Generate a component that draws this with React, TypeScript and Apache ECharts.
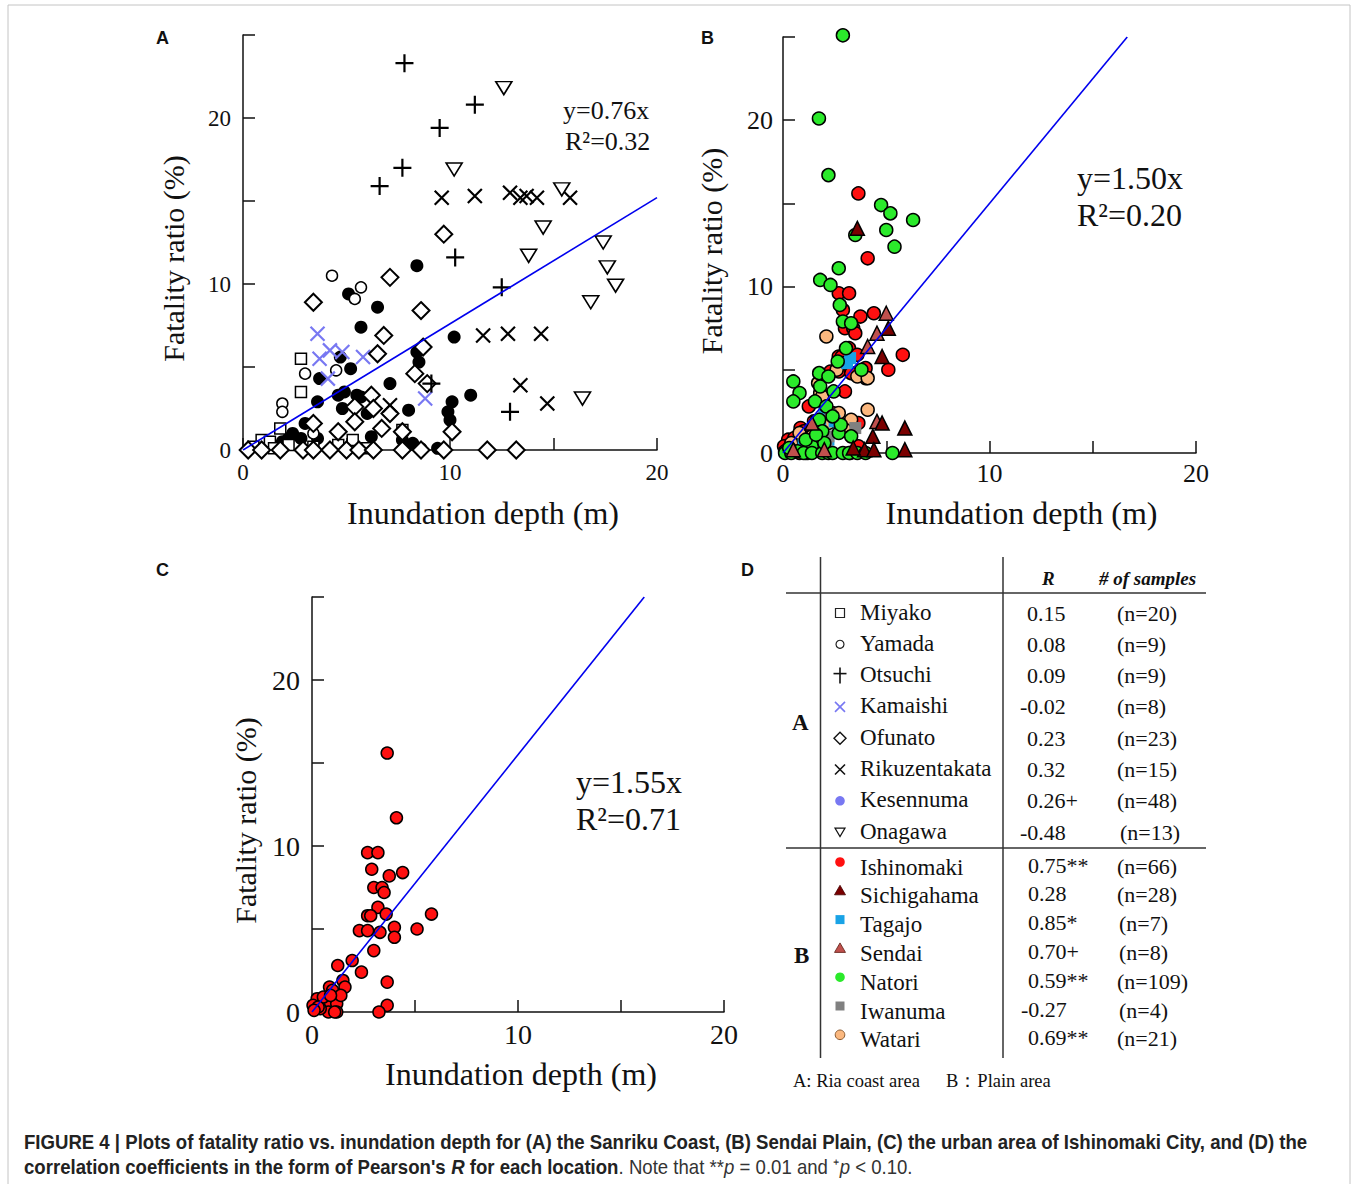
import React, { useEffect, useRef } from 'react';
import * as echarts from 'echarts';

const SERIF = '"Liberation Serif", "Times New Roman", serif';
const SANS = '"Liberation Sans", Arial, sans-serif';
const INK = '#111';

// ---------- Panel A: Sanriku Coast [depth m, fatality %] ----------
const miyako = [[2.8, 5.5], [2.8, 3.5], [1.8, 1.3], [0.9, 0.6], [1.3, 0.5], [7.7, 1.2], [5.3, 0.6], [0.5, 0.2], [2.2, 0.3], [3.4, 0.2], [4.6, 0.3], [6.0, 0.1], [1.5, 0.1]];
const yamada = [[4.3, 10.5], [5.7, 9.8], [5.4, 9.1], [3.0, 4.6], [4.5, 4.8], [1.9, 2.8], [1.9, 2.3], [3.4, 1.0], [8.6, 0.1]];
const otsuchi = [[7.8, 23.3], [9.5, 19.4], [11.2, 20.8], [6.6, 15.9], [7.7, 17.0], [10.25, 11.6], [12.5, 9.8], [12.9, 2.3], [9.1, 4.0]];
const kamaishi = [[3.6, 7.0], [3.7, 5.5], [4.2, 6.0], [4.8, 5.9], [5.8, 5.6], [4.1, 4.3], [8.8, 3.1]];
const ofunato = [[9.7, 13.0], [7.1, 10.4], [3.4, 8.9], [8.6, 8.4], [6.8, 6.9], [6.5, 5.8], [8.7, 6.2], [8.3, 4.6], [8.9, 4.0], [6.2, 3.3], [5.4, 2.6], [6.3, 2.5], [7.1, 2.2], [5.4, 1.7], [6.7, 1.3], [4.6, 1.1], [3.4, 1.6], [7.7, 1.1], [10.1, 1.1], [0.25, 0], [0.9, 0], [1.8, 0], [2.9, 0], [3.4, 0], [4.2, 0], [5.0, 0], [5.6, 0], [6.3, 0], [7.7, 0], [8.6, 0], [9.7, 0], [11.8, 0], [13.2, 0]];
const rikuzentakata = [[9.6, 15.2], [11.2, 15.3], [12.9, 15.5], [13.4, 15.2], [13.7, 15.3], [14.2, 15.2], [15.8, 15.2], [11.6, 6.9], [12.8, 7.0], [14.4, 7.0], [13.4, 3.9], [14.7, 2.8], [7.1, 2.7]];
const kesennuma = [[8.4, 11.1], [5.1, 9.4], [6.5, 8.6], [5.7, 7.4], [10.2, 6.8], [4.7, 5.6], [5.2, 4.9], [3.7, 4.3], [8.4, 5.9], [8.5, 5.3], [7.1, 4.0], [11.0, 3.3], [10.1, 2.9], [4.9, 3.5], [4.6, 3.3], [3.6, 2.9], [5.5, 3.3], [5.7, 3.2], [4.8, 2.5], [6.0, 2.2], [8.0, 2.4], [9.9, 2.3], [10.0, 1.8], [3.0, 1.6], [2.4, 1.0], [2.2, 0.7], [2.8, 0.7], [3.6, 0.7], [6.2, 0.8], [7.7, 0.6], [1.9, 0.5], [9.4, 0.1], [8.2, 0.4]];
const onagawa = [[12.6, 21.8], [10.2, 16.9], [15.4, 15.7], [14.5, 13.4], [17.4, 12.5], [13.8, 11.7], [17.6, 11.0], [18.0, 9.9], [16.8, 8.9], [16.4, 3.1]];

// ---------- Panel B: Sendai Plain ----------
const ishinomaki = [[3.65, 15.6], [4.1, 11.7], [2.7, 9.6], [3.2, 9.6], [2.9, 8.6], [3.75, 8.2], [4.4, 8.4], [3.0, 7.5], [3.4, 7.5], [3.5, 7.2], [3.2, 6.3], [2.7, 5.8], [2.85, 5.8], [3.6, 5.9], [5.8, 5.9], [2.3, 4.9], [2.7, 4.9], [3.3, 4.8], [4.0, 5.1], [5.1, 5.0], [4.0, 4.5], [3.0, 3.7], [1.95, 3.1], [2.4, 2.4], [1.25, 2.8], [3.65, 1.8], [1.5, 1.9], [1.6, 1.5], [0.85, 1.5], [3.65, 0.4], [3.25, 0], [0.25, 0.8], [0.05, 0.4], [0.8, 0.55], [1.1, 0.9], [1.2, 0.5], [0.8, 0], [1.2, 0], [0.4, 0.2], [0.55, 0.9], [1.0, 1.3], [0.3, 0.3], [0.1, 0.1], [1.4, 1.0], [0.9, 1.0], [1.1, 0.0]];
const sichigahama = [[3.6, 13.5], [5.1, 7.5], [4.8, 5.8], [4.8, 1.8], [5.9, 1.5], [4.35, 1.0], [3.95, 0.2], [4.4, 0.2], [5.9, 0.2], [3.4, 0.3]];
const tagajo = [[3.25, 5.7], [3.1, 5.4], [2.5, 1.9], [2.2, 0.8], [1.8, 1.5], [2.0, 2.6], [1.0, 0.5]];
const sendai = [[5.0, 8.4], [4.55, 7.2], [4.1, 6.4], [4.55, 1.9], [1.4, 1.8], [0.5, 0.2], [2.0, 0.2]];
const natori = [[2.9, 25.1], [1.74, 20.1], [2.2, 16.7], [4.75, 14.9], [5.2, 14.4], [6.3, 14.0], [5.0, 13.4], [3.5, 13.1], [5.4, 12.4], [2.7, 11.1], [1.8, 10.4], [2.3, 10.1], [2.75, 8.9], [2.9, 7.9], [3.3, 7.8], [3.05, 6.3], [2.65, 5.5], [3.8, 5.0], [1.75, 4.8], [2.2, 4.6], [0.5, 4.3], [0.8, 3.6], [0.5, 3.1], [1.8, 4.0], [1.55, 3.1], [2.45, 3.7], [2.1, 2.8], [1.75, 2.0], [1.9, 1.3], [2.7, 1.2], [3.3, 1.0], [2.8, 1.7], [1.4, 0.4], [2.4, 2.2], [0.1, 0], [0.4, 0], [0.7, 0.1], [1.0, 0], [1.4, 0], [1.9, 0], [2.2, 0], [2.4, 0], [2.9, 0], [3.2, 0], [3.6, 0], [4.0, 0], [5.3, 0], [0.3, 0.3], [1.1, 0.8], [2.0, 0.6], [1.6, 1.1]];
const iwanuma = [[3.5, 1.5], [2.2, 1.0], [2.3, 2.3], [2.1, 0.5]];
const watari = [[2.1, 7.0], [3.6, 4.6], [4.1, 4.5], [1.7, 4.2], [1.8, 3.6], [4.1, 2.6], [2.7, 2.4], [3.3, 2.0], [2.2, 1.8], [0.8, 1.2], [1.4, 1.0], [1.6, 0.4], [2.9, 5.4], [0.4, 0.6], [2.6, 5.0], [1.9, 3.4], [3.0, 1.4], [1.2, 0.2]];

// ---------- regression lines ----------
const fitA = [[0, 0], [20, 15.2]];
const fitB = [[0, 0], [16.67, 25]];
const fitC = [[0, 0], [16.13, 25]];

// ---------- Panel D table ----------
const namesA = ['Miyako', 'Yamada', 'Otsuchi', 'Kamaishi', 'Ofunato', 'Rikuzentakata', 'Kesennuma', 'Onagawa'];
const rA = ['0.15', '0.08', '0.09', '-0.02', '0.23', '0.32', '0.26+', '-0.48'];
const nA = ['(n=20)', '(n=9)', '(n=9)', '(n=8)', '(n=23)', '(n=15)', '(n=48)', '(n=13)'];
const namesB = ['Ishinomaki', 'Sichigahama', 'Tagajo', 'Sendai', 'Natori', 'Iwanuma', 'Watari'];
const rB = ['0.75**', '0.28', '0.85*', '0.70+', '0.59**', '-0.27', '0.69**'];
const nB = ['(n=66)', '(n=28)', '(n=7)', '(n=8)', '(n=109)', '(n=4)', '(n=21)'];

const C_RED = '#ff1010';
const C_DARKRED = '#7a0000';
const C_BROWN = '#c0504d';
const C_SKY = '#19a3e6';
const C_GREEN = '#2bea2b';
const C_GRAY = '#808080';
const C_ORANGE = '#fbb87f';
const C_LAV = '#7878f2';
const C_FIT = '#0000ee';

const PLUS = 'path://M5,0L5,10M0,5L10,5';
const CROSS = 'path://M0,0L10,10M10,0L0,10';
const TRI_DOWN = 'path://M0,0L10,0L5,8.66Z';

function axes(grid: number, labelSize: number, xMargin: number, yMargin: number, xGap: number, yGap: number, xShift: number, yShift: number) {
  const base: any = {
    gridIndex: grid,
    type: 'value',
    min: 0,
    interval: 5,
    axisLine: { show: true, onZero: false, lineStyle: { color: INK, width: 1.5 } },
    axisTick: { show: true, inside: true, length: 12, lineStyle: { color: INK, width: 1.5 } },
    splitLine: { show: false },
    nameLocation: 'middle',
  };
  const label = (m: number) => ({
    margin: m,
    fontFamily: SERIF,
    fontSize: labelSize,
    color: INK,
    formatter: (v: number) => (v % 10 === 0 ? String(v) : ''),
  });
  return {
    x: {
      ...base, max: 20, name: 'Inundation depth (m)', nameGap: xGap, axisLabel: label(xMargin),
      nameTextStyle: { fontFamily: SERIF, fontSize: 32, color: INK, padding: [0, 0, 0, xShift * 2] },
    },
    y: {
      ...base, max: 25, name: 'Fatality ratio (%)', nameGap: yGap, axisLabel: label(yMargin),
      nameTextStyle: { fontFamily: SERIF, fontSize: 30, color: INK, padding: [0, yShift * 2, 0, 0] },
    },
  };
}

function sc(data: number[][], idx: number, symbol: string, size: any, fill: string, stroke: string, bw: number) {
  return {
    type: 'scatter',
    xAxisIndex: idx,
    yAxisIndex: idx,
    data,
    symbol,
    symbolSize: size,
    clip: false,
    itemStyle: { color: fill, borderColor: stroke, borderWidth: bw, opacity: 1 },
    emphasis: { disabled: true },
    z: 2,
  };
}

function fit(data: number[][], idx: number) {
  return {
    type: 'line',
    xAxisIndex: idx,
    yAxisIndex: idx,
    data,
    showSymbol: false,
    symbol: 'none',
    lineStyle: { color: C_FIT, width: 1.6 },
    z: 5,
  };
}

function legendSymbol(kind: string, cx: number, cy: number): any {
  switch (kind) {
    case 'sq-open':
      return { type: 'rect', shape: { x: cx - 4.5, y: cy - 4.5, width: 9, height: 9 }, style: { fill: '#fff', stroke: '#222', lineWidth: 1.2 } };
    case 'ci-open':
      return { type: 'circle', shape: { cx, cy, r: 4 }, style: { fill: '#fff', stroke: '#222', lineWidth: 1.2 } };
    case 'plus':
      return {
        type: 'group',
        children: [
          { type: 'line', shape: { x1: cx, y1: cy - 8, x2: cx, y2: cy + 8 }, style: { stroke: '#111', lineWidth: 1.6 } },
          { type: 'line', shape: { x1: cx - 6.5, y1: cy - 2, x2: cx + 6.5, y2: cy - 2 }, style: { stroke: '#111', lineWidth: 1.6 } },
        ],
      };
    case 'cross-lav':
    case 'cross':
      return {
        type: 'group',
        children: [
          { type: 'line', shape: { x1: cx - 5, y1: cy - 5, x2: cx + 5, y2: cy + 5 }, style: { stroke: kind === 'cross' ? '#111' : C_LAV, lineWidth: 1.6 } },
          { type: 'line', shape: { x1: cx + 5, y1: cy - 5, x2: cx - 5, y2: cy + 5 }, style: { stroke: kind === 'cross' ? '#111' : C_LAV, lineWidth: 1.6 } },
        ],
      };
    case 'dia-open':
      return { type: 'polygon', shape: { points: [[cx, cy - 6], [cx + 6, cy], [cx, cy + 6], [cx - 6, cy]] }, style: { fill: '#fff', stroke: '#111', lineWidth: 1.4 } };
    case 'tri-down-open':
      return { type: 'polygon', shape: { points: [[cx - 5, cy - 4], [cx + 5, cy - 4], [cx, cy + 4.5]] }, style: { fill: '#fff', stroke: '#111', lineWidth: 1.2 } };
    default: {
      const [shape, color, border] = kind.split('|');
      if (shape === 'dot') return { type: 'circle', shape: { cx, cy, r: 4.8 }, style: { fill: color, stroke: border || color, lineWidth: border ? 1 : 0 } };
      if (shape === 'tri') return { type: 'polygon', shape: { points: [[cx, cy - 5.5], [cx + 5.5, cy + 4], [cx - 5.5, cy + 4]] }, style: { fill: color, stroke: border || color, lineWidth: 0.8 } };
      return { type: 'rect', shape: { x: cx - 4.5, y: cy - 4.5, width: 9, height: 9 }, style: { fill: color } };
    }
  }
}

const symA = ['sq-open', 'ci-open', 'plus', 'cross-lav', 'dia-open', 'cross', 'dot|' + C_LAV, 'tri-down-open'];
const symB = ['dot|' + C_RED, 'tri|' + C_DARKRED + '|#400', 'sq|' + C_SKY, 'tri|' + C_BROWN + '|#5a1a10', 'dot|' + C_GREEN, 'sq|' + C_GRAY, 'dot|' + C_ORANGE + '|#8a5a30'];

function buildGraphic() {
  const g: any[] = [];
  const txt = (text: string, x: number, y: number, size: number, extra: any = {}) => ({
    type: 'text',
    x,
    y,
    style: { text, fontFamily: SERIF, fontSize: size, fill: INK, textVerticalAlign: 'middle', textAlign: 'left', ...extra },
    silent: true,
  });
  // figure frame
  g.push({ type: 'rect', shape: { x: 8, y: 5, width: 1342, height: 1200 }, style: { fill: 'none', stroke: '#c4c4c4', lineWidth: 1 }, silent: true });
  // panel letters
  const pl = (t: string, x: number, y: number) => txt(t, x, y, 18, { fontFamily: SANS, fontWeight: 'bold' });
  g.push(pl('A', 156, 38), pl('B', 701, 38), pl('C', 156, 570), pl('D', 741, 570));
  // fit annotations
  g.push(txt('y=0.76x', 563, 110, 26), txt('R²=0.32', 565, 141, 26));
  g.push(txt('y=1.50x', 1077, 178, 32), txt('R²=0.20', 1077, 215, 32));
  g.push(txt('y=1.55x', 576, 782, 32), txt('R²=0.71', 576, 819, 32));

  // table lines
  const ln = (x1: number, y1: number, x2: number, y2: number) => ({ type: 'line', shape: { x1, y1, x2, y2 }, style: { stroke: '#333', lineWidth: 1.5 }, silent: true });
  g.push(ln(820.5, 557, 820.5, 1058), ln(1003, 557, 1003, 1058), ln(786, 593, 1206, 593), ln(786, 848, 1206, 848));
  // header
  g.push(txt('R', 1042, 578, 19, { fontWeight: 'bold', fontStyle: 'italic' }));
  g.push(txt('# of samples', 1099, 578, 19, { fontWeight: 'bold', fontStyle: 'italic' }));
  g.push(txt('A', 792, 722, 23, { fontWeight: 'bold' }));
  g.push(txt('B', 794, 955, 23, { fontWeight: 'bold' }));
  namesA.forEach((name, i) => {
    const y = 612 + i * 31.3;
    g.push(legendSymbol(symA[i], 840, y + 1));
    g.push(txt(name, 860, y, 23));
    g.push(txt(rA[i], rA[i].startsWith('-') ? 1020 : 1027, y + 1, 22));
    g.push(txt(nA[i], i === 7 ? 1120 : 1117, y + 1, 22));
  });
  namesB.forEach((name, i) => {
    const y = 867 + i * 28.8;
    g.push(legendSymbol(symB[i], 840, y - 5));
    g.push(txt(name, 860, y, 23));
    g.push(txt(rB[i], rB[i].startsWith('-') ? 1021 : 1028, y - 2, 22));
    g.push(txt(nB[i], nB[i].length === 5 ? 1119 : 1117, y - 1, 22));
  });
  g.push(txt('A: Ria coast area', 793, 1081, 18.5));
  g.push(txt('B：Plain area', 946, 1081, 18.5));

  // caption
  const FS = 20;
  const rich = {
    b: { fontFamily: SANS, fontWeight: 'bold', fontSize: FS, fill: '#222' },
    bi: { fontFamily: SANS, fontWeight: 'bold', fontStyle: 'italic', fontSize: FS, fill: '#222' },
    n: { fontFamily: SANS, fontSize: FS, fill: '#333' },
    ni: { fontFamily: SANS, fontStyle: 'italic', fontSize: FS, fill: '#333' },
  };
  g.push({
    type: 'text', x: 24, y: 1142, scaleX: 0.93, silent: true,
    style: {
      text: '{b|FIGURE 4 | Plots of fatality ratio vs. inundation depth for (A) the Sanriku Coast, (B) Sendai Plain, (C) the urban area of Ishinomaki City, and (D) the}',
      rich, textVerticalAlign: 'middle',
    },
  });
  g.push({
    type: 'text', x: 24, y: 1167, scaleX: 0.93, silent: true,
    style: {
      text: "{b|correlation coefficients in the form of Pearson's }{bi|R}{b| for each location}{n|. Note that **}{ni|p}{n| = 0.01 and ⁺}{ni|p}{n| < 0.10.}",
      rich, textVerticalAlign: 'middle',
    },
  });
  return g;
}

export default function App() {
  const ref = useRef<HTMLDivElement>(null);
  useEffect(() => {
    if (!ref.current) return;
    const chart = echarts.init(ref.current, undefined, { renderer: 'svg' });
    const a = axes(0, 23, 11, 12, 47, 55, 33, 16);
    const b = axes(1, 26, 7, 10, 44, 57, 32, 6);
    const c = axes(2, 28, 8, 12, 46, 52, 3, 16);
    chart.setOption({
      animation: false,
      backgroundColor: '#fff',
      grid: [
        { left: 243, top: 35, width: 414, height: 415 },
        { left: 783, top: 37, width: 413, height: 416 },
        { left: 312, top: 597, width: 412, height: 415 },
      ],
      xAxis: [a.x, b.x, c.x],
      yAxis: [a.y, b.y, c.y],
      series: [
        // Panel A
        sc(kesennuma, 0, 'circle', 13, '#000', '#000', 0),
        sc(miyako, 0, 'rect', 11, '#fff', '#000', 1.5),
        sc(yamada, 0, 'circle', 11, '#fff', '#000', 1.5),
        sc(kamaishi, 0, CROSS, 14, 'rgba(0,0,0,0)', C_LAV, 2.2),
        sc(ofunato, 0, 'diamond', 17, '#fff', '#000', 2),
        sc(otsuchi, 0, PLUS, 18, 'rgba(0,0,0,0)', '#000', 2.2),
        sc(rikuzentakata, 0, CROSS, 14, 'rgba(0,0,0,0)', '#000', 2.2),
        sc(onagawa, 0, TRI_DOWN, [16, 13], '#fff', '#000', 1.6),
        fit(fitA, 0),
        // Panel B
        sc(ishinomaki, 1, 'circle', 13, C_RED, '#000', 1.5),
        sc(watari, 1, 'circle', 13, C_ORANGE, '#000', 1.5),
        sc(tagajo, 1, 'rect', 12, C_SKY, C_SKY, 0),
        sc(iwanuma, 1, 'rect', 12, C_GRAY, C_GRAY, 0),
        sc(natori, 1, 'circle', 13, C_GREEN, '#000', 1.5),
        sc(sendai, 1, 'triangle', 14, C_BROWN, '#000', 1.5),
        sc(sichigahama, 1, 'triangle', 14, C_DARKRED, '#000', 1.5),
        fit(fitB, 1),
        // Panel C
        sc(ishinomaki, 2, 'circle', 12, C_RED, '#000', 1.5),
        fit(fitC, 2),
      ],
      graphic: buildGraphic(),
    });
    return () => chart.dispose();
  }, []);
  return (
    <div
      ref={ref}
      style={{ position: 'absolute', left: 0, top: 0, width: 1355, height: 1184, background: '#fff' }}
    />
  );
}
